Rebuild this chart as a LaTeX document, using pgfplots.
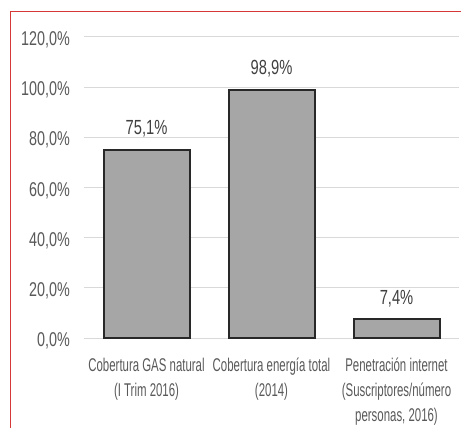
\documentclass[border=0pt]{standalone}
\usepackage{pgfplots}
\pgfplotsset{compat=1.18}
\usepackage{fontspec}
\setmainfont{Liberation Sans}
\newfontfamily\nfont{Liberation Sans}[FakeStretch=0.72]
\newfontfamily\xfont{Liberation Sans}[FakeStretch=0.62]
\pgfkeys{/pgf/number format/assume math mode=true}
\definecolor{txt}{RGB}{89,89,89}
\definecolor{lbl}{RGB}{64,64,64}
\definecolor{gridc}{RGB}{217,217,217}
\definecolor{barfill}{RGB}{166,166,166}
\definecolor{barline}{RGB}{40,40,40}
\definecolor{frame}{RGB}{214,55,55}
\begin{document}
\begin{tikzpicture}[x=1bp,y=1bp]
\begin{axis}[
  at={(84bp,89bp)}, anchor=south west,
  scale only axis, width=375bp, height=301bp,
  xmin=-0.5, xmax=2.5, ymin=0, ymax=120,
  axis line style={draw=none},
  major tick length=0pt,
  /pgf/number format/assume math mode=true,
  ytick={0,20,...,120},
  ymajorgrids, grid style={draw=gridc, line width=1bp},
  yticklabel={\pgfmathprintnumber[fixed,fixed zerofill,precision=1,use comma,assume math mode=true]{\tick}\%},
  yticklabel style={font=\nfont\fontsize{20}{24}\selectfont, text=txt, anchor=base east, inner sep=0pt, xshift=-14bp, yshift=-8.5bp},
  xtick={0,1,2},
  xticklabels={{Cobertura GAS natural\\(I Trim 2016)},{Cobertura energía total\\(2014)},{Penetración internet\\(Suscriptores/número\\personas, 2016)}},
  xticklabel style={font=\xfont\fontsize{18.5}{24.8}\selectfont, text=txt, align=center, anchor=north, inner sep=0pt, yshift=-20bp},
  ybar, bar width=86bp,
  nodes near coords={\pgfmathprintnumber[fixed,fixed zerofill,precision=1,use comma,assume math mode=true]{\pgfplotspointmeta}\%},
  nodes near coords style={font=\nfont\fontsize{20.5}{24}\selectfont, text=lbl, anchor=base, inner sep=0pt, yshift=15bp},
]
\addplot[fill=barfill, draw=barline, line width=2bp, line join=miter] coordinates {(0,75.1) (1,98.9) (2,7.4)};
\end{axis}
\draw[frame, line width=1.3bp] (10.5,-20) -- (10.5,415.5) -- (490,415.5);
\pgfresetboundingbox
\useasboundingbox (0,0) rectangle (461,427);
\end{tikzpicture}
\end{document}
